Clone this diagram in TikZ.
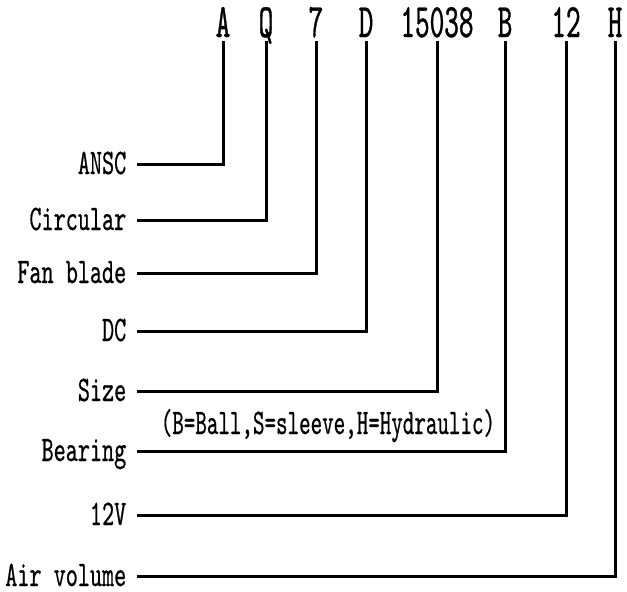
\documentclass[tikz,border=0pt]{standalone}
\usepackage{fontspec}
\newfontfamily\labelfont{lmmono10-regular.otf}[FakeStretch=0.64,FakeBold=0.5]
\newfontfamily\notefont{lmmono10-regular.otf}[FakeStretch=0.61,FakeBold=0.5]
\newfontfamily\codefont{lmmono10-regular.otf}[FakeStretch=0.58,FakeBold=0.7]

\tikzset{every picture/.style={line width=0.75pt}}
\tikzset{
  code letter/.style={font=\codefont\fontsize{24pt}{26pt}\selectfont, inner xsep=0pt, inner ysep=2.5pt, text height=13.5pt, text depth=0pt},
  part label/.style={font=\labelfont\fontsize{18pt}{20pt}\selectfont, anchor=east, inner xsep=5.5pt, inner ysep=0pt, text height=10pt, text depth=0pt},
  lead line/.style={line width=1.5pt, line cap=rect}
}

\begin{document}
\begin{tikzpicture}[x=0.5pt,y=0.5pt,yscale=-1,xscale=1]
\useasboundingbox (0,0) rectangle (627,591);

% Code letters
\node [code letter] (codeA) at (223,23.5) {A};
\node [code letter] (codeQ) at (266,23.5) {Q};
\node [code letter] (code7) at (316,23.5) {7};
\node [code letter] (codeD) at (366,23.5) {D};
\node [code letter] (codeSize) at (437,23.5) {15038};
\node [code letter] (codeB) at (505,23.5) {B};
\node [code letter] (code12) at (566,23.5) {12};
\node [code letter] (codeH) at (615,23.5) {H};

% Text Node
\node [part label] (ansc) at (138,164) {ANSC};
% Text Node
\node [part label] (circular) at (138,220) {Circular};
% Text Node
\node [part label] (blade) at (138,273) {Fan blade};
% Text Node
\node [part label] (dc) at (138,331) {DC};
% Text Node
\node [part label] (size) at (138,391) {Size};
% Text Node
\node [part label] (bearing) at (138,451) {Bearing};
% Text Node
\node [part label] (volt) at (138,515) {12V};
% Text Node
\node [part label] (air) at (138,576) {Air volume};
% Text Node
\node [part label, font=\notefont\fontsize{18pt}{20pt}\selectfont, anchor=west, inner xsep=0pt] (bearingnote) at (160,424) {(B=Ball,S=sleeve,H=Hydraulic)};

% Lead lines
\draw [lead line] (ansc.east) -| (codeA.south);
\draw [lead line] (circular.east) -| (codeQ.south);
\draw [lead line] (blade.east) -| (code7.south);
\draw [lead line] (dc.east) -| (codeD.south);
\draw [lead line] (size.east) -| (codeSize.south);
\draw [lead line] (bearing.east) -| (codeB.south);
\draw [lead line] (volt.east) -| (code12.south);
\draw [lead line] (air.east) -| (codeH.south);

\end{tikzpicture}
\end{document}
